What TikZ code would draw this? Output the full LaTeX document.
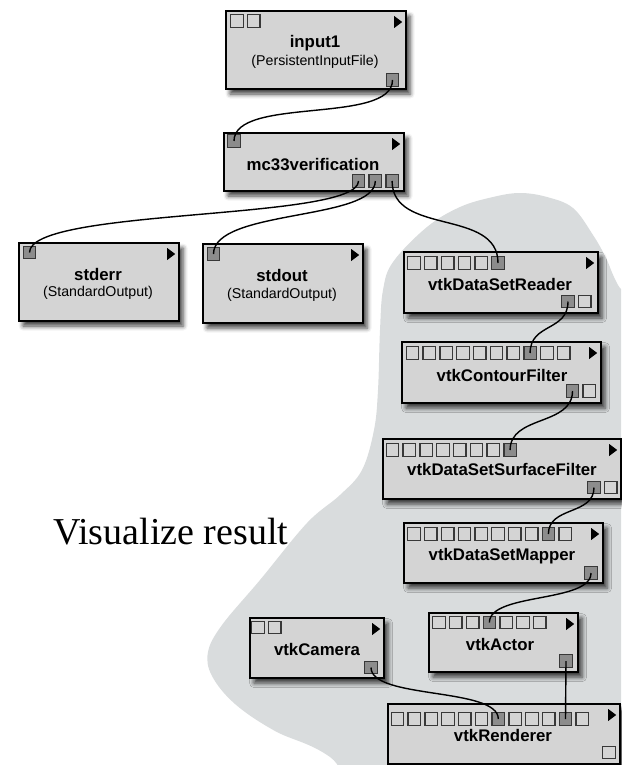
\documentclass[tikz,border=0pt]{standalone}
\usepackage{fontspec}
\setmainfont{Liberation Serif}
\setsansfont{Liberation Sans}
\usetikzlibrary{shadows.blur}

\definecolor{boxfill}{HTML}{D4D4D4}
\definecolor{blob}{HTML}{D9DCDD}
\definecolor{portfill}{HTML}{8C8C8C}
\definecolor{portline}{HTML}{383838}

% module box: name, left, top, right, bottom (with run marker)
\newcommand\modbox[5]{%
  \node[module, anchor=north west, minimum width={(#4)-(#2)}, minimum height={(#5)-(#3)}] (#1) at (#2,#3) {};
  \fill ([xshift=-13pt,yshift=-6pt]#1.north east) -- ++(8,6) -- ++(-8,6) -- cycle;
}
% row of ports: prefix, x of first centre, y centre, count, list of connected ports
\newcommand\portrow[5]{%
  \foreach \k in {1,...,#4}{%
    \gdef\pfill{boxfill}%
    \foreach \f in {#5}{\ifnum\k=\f\relax\gdef\pfill{portfill}\fi}%
    \node[port, fill=\pfill] (#1\k) at ({#2+(\k-1)*16.8},#3) {};
  }%
}

\begin{document}
\begin{tikzpicture}[x=1pt,y=-1pt,
  module/.style={draw=black, line width=2.2pt, fill=boxfill, rectangle, inner sep=0pt,
    blur shadow={shadow xshift=4pt, shadow yshift=-5pt, shadow blur radius=4.5pt, shadow opacity=75}},
  port/.style={draw=portline, line width=1.3pt, minimum size=12.5pt, inner sep=0pt, rectangle},
  title/.style={font=\sffamily\bfseries\fontsize{16.8}{18}\selectfont, inner sep=0pt, anchor=base},
  subtitle/.style={font=\sffamily\fontsize{14.2}{16}\selectfont, inner sep=0pt, anchor=base},
  wire/.style={draw=black, line width=1.4pt},
]
\useasboundingbox (0,0) rectangle (621,765);

% grey backdrop behind the visualization pipeline
\begin{scope}
  \clip (0,0) rectangle (621,765);
  \fill[blob] plot[smooth cycle, tension=0.6] coordinates {
    (393,262) (427,227) (460,207) (493,197) (520,193) (547,197) (573,208)
    (593,235) (606,258) (618,285) (650,340) (680,600) (680,820) (400,820)
    (330,757) (275,731) (235,704) (212,676) (208,652) (222,625) (260,580)
    (307,523) (340,495) (362,470) (374,430) (378,390) (380,330) (383,290)};
\end{scope}

% modules
\modbox{in1}{225}{10}{405}{88}
\modbox{mc}{223}{132}{403}{190}
\modbox{se}{18}{242}{178}{320}
\modbox{so}{202}{243}{362}{322}
\modbox{rd}{403}{251}{597}{312}
\modbox{ct}{401}{341}{600}{402}
\modbox{sf}{382}{438}{620}{498}
\modbox{mp}{403}{522}{602}{582}
\modbox{cm}{249}{617}{383}{677}
\modbox{ac}{428}{612}{577}{671}
\modbox{rn}{387}{703}{619}{763}

% ports
\portrow{in1-i}{237}{21}{2}{0}
\portrow{in1-o}{392.5}{80}{1}{1}
\portrow{mc-i}{234}{141}{1}{1}
\portrow{mc-o}{358.5}{181}{3}{1,2,3}
\portrow{se-i}{29.5}{252.5}{1}{1}
\portrow{so-i}{213.5}{254}{1}{1}
\portrow{rd-i}{414}{263}{6}{6}
\portrow{rd-o}{568}{301.5}{2}{1}
\portrow{ct-i}{412.5}{353}{10}{8}
\portrow{ct-o}{572.5}{391}{2}{1}
\portrow{sf-i}{392.5}{450}{8}{8}
\portrow{sf-o}{594}{487.5}{2}{1}
\portrow{mp-i}{414}{534}{10}{9}
\portrow{mp-o}{591}{573}{1}{1}
\portrow{cm-i}{258}{627.5}{2}{0}
\portrow{cm-o}{371}{667.5}{1}{1}
\portrow{ac-i}{439}{622.5}{7}{4}
\portrow{ac-o}{566}{661}{1}{1}
\portrow{rn-i}{397.5}{719}{12}{7,11}
\portrow{rn-o}{609}{752.5}{1}{0}

% labels
\node[title] (in1-t) at (315,48) {input1};
\node[subtitle] (in1-s) at (315,66) {(PersistentInputFile)};
\node[title] (mc-t) at (313,170) {mc33verification};
\node[title] (se-t) at (98,280) {stderr};
\node[subtitle] (se-s) at (98,296.5) {(StandardOutput)};
\node[title] (so-t) at (282,281.5) {stdout};
\node[subtitle] (so-s) at (282,298) {(StandardOutput)};
\node[title] (rd-t) at (500,290) {vtkDataSetReader};
\node[title] (ct-t) at (502,381) {vtkContourFilter};
\node[title] (sf-t) at (502,475) {vtkDataSetSurfaceFilter};
\node[title] (mp-t) at (502,560) {vtkDataSetMapper};
\node[title] (cm-t) at (317,655) {vtkCamera};
\node[title] (ac-t) at (500,650) {vtkActor};
\node[title] (rn-t) at (503,741.5) {vtkRenderer};

\node[font=\fontsize{38}{40}\selectfont, inner sep=0pt, anchor=base west] (vis) at (53,544) {Visualize result};

% connections
\draw[wire] (in1-o1.center) .. controls +(0,45) and +(0,-45) .. (mc-i1.center);
\draw[wire] (mc-o1.center) .. controls +(0,40) and +(0,-45) .. (se-i1.center);
\draw[wire] (mc-o2.center) .. controls +(0,40) and +(0,-45) .. (so-i1.center);
\draw[wire] (mc-o3.center) .. controls +(0,55) and +(0,-55) .. (rd-i6.center);
\draw[wire] (rd-o1.center) .. controls +(0,30) and +(0,-30) .. (ct-i8.center);
\draw[wire] (ct-o1.center) .. controls +(0,35) and +(0,-35) .. (sf-i8.center);
\draw[wire] (sf-o1.center) .. controls +(0,28) and +(0,-28) .. (mp-i9.center);
\draw[wire] (mp-o1.center) .. controls +(0,30) and +(0,-30) .. (ac-i4.center);
\draw[wire] (cm-o1.center) .. controls +(0,32) and +(0,-32) .. (rn-i7.center);
\draw[wire] (ac-o1.center) -- (rn-i11.center);
\end{tikzpicture}
\end{document}
